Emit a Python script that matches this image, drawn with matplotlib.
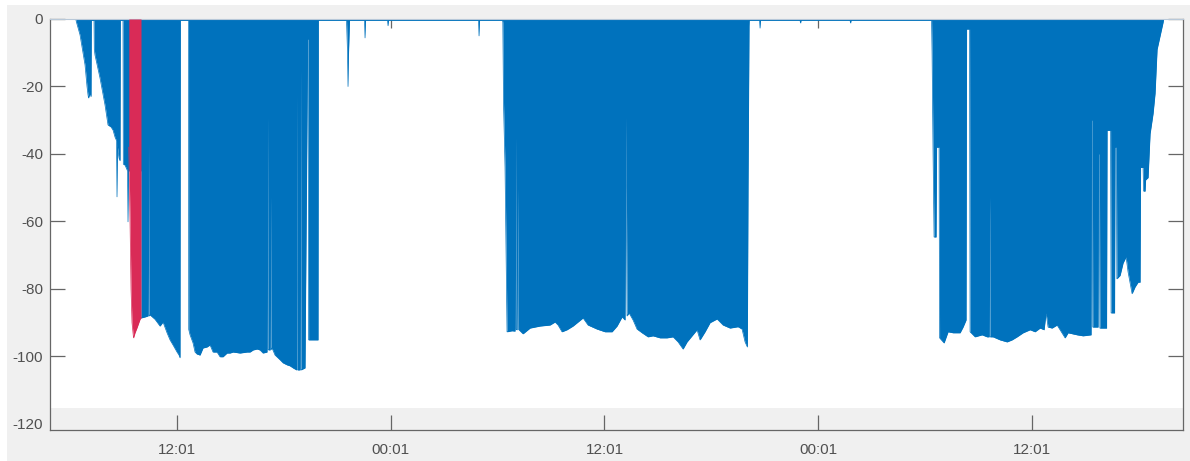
import numpy as np
import matplotlib
matplotlib.use("Agg")
import matplotlib.pyplot as plt
from matplotlib.patches import Rectangle

# time in hours since midnight of day 1, level in dBm (lower envelope of the trace)
burst1_t = [6.346, 6.374, 6.570, 6.851, 6.963, 7.019, 7.047, 7.132, 7.188, 7.205,
            7.356, 7.373, 7.412, 7.693, 7.974, 8.142, 8.311, 8.423, 8.535, 8.619,
            8.647, 8.675, 8.760, 8.816, 8.833, 8.984, 9.001, 9.097, 9.237, 9.265,
            9.293, 9.434, 9.984, 9.995, 10.220, 10.388, 10.416, 10.444, 10.501, 10.781,
            11.062, 11.230, 11.455, 11.624, 11.792, 12.017, 12.129, 12.185, 12.202, 12.662,
            12.674, 12.747, 12.915, 13.027, 13.140, 13.308, 13.476, 13.701, 13.870, 14.038,
            14.263, 14.431, 14.599, 14.824, 14.993, 15.161, 15.554, 15.947, 16.116, 16.284,
            16.509, 16.677, 16.845, 17.070, 17.098, 17.126, 17.239, 17.267, 17.295, 17.351,
            17.520, 17.800, 17.968, 18.193, 18.362, 18.530, 18.727, 18.755, 18.783, 18.923,
            18.951, 18.979, 19.204, 19.288, 19.344, 19.372, 19.389, 19.406, 19.653, 19.934,
            19.951]
burst1_v = [-0.4, -1, -4.7, -13.6, -20, -22.5, -23.4, -22, -23, -0.4,
            -0.4, -9, -10.7, -17.5, -25.5, -31.4, -32, -32.9, -35, -36,
            -52.7, -38, -41.2, -42, -0.4, -0.4, -43, -43.3, -45, -60.1,
            -45, -45, -45, -88.6, -88.3, -88, -37, -88, -87.7, -89,
            -91, -89.8, -93, -95.1, -96.6, -98.7, -99.6, -100.4, -0.4, -0.4,
            -92, -93.6, -96, -98.7, -99.3, -99.6, -97.5, -97.2, -96.6, -98.7,
            -98.7, -100.1, -100.1, -99, -99, -98.7, -99, -98.7, -98.7, -98.1,
            -97.8, -98.1, -99, -98.7, -29, -98, -98.1, -52.7, -98, -97.5,
            -99.6, -101, -101.9, -102.5, -102.8, -103.4, -104, -22, -104, -104,
            -15, -104, -103.4, -48, -6, -6, -48, -95.1, -95.1, -95.1,
            -0.4]

idle1_t = [21.534, 21.590, 21.618, 21.646, 21.702, 22.545, 22.573, 22.601,
           23.836, 23.864, 23.892, 28.946, 28.974, 29.002, 30.293]
idle1_v = [-0.4, -10, -20, -10, -0.4, -0.4, -5.6, -0.4,
           -0.4, -2, -0.4, -0.4, -5, -0.4, -0.4]

burst2_t = [30.310, 30.349, 30.434, 30.518, 30.546, 30.827, 30.995, 31.023, 31.051, 31.108,
            31.164, 31.192, 31.445, 31.838, 32.399, 32.961, 33.241, 33.410, 33.634, 33.915,
            34.252, 34.533, 34.813, 35.094, 35.600, 36.049, 36.442, 36.723, 37.003, 37.172,
            37.228, 37.284, 37.396, 37.621, 37.845, 38.126, 38.463, 38.744, 39.137, 39.530,
            39.867, 40.148, 40.429, 40.653, 40.934, 41.215, 41.383, 41.664, 41.945, 42.338,
            42.675, 43.068, 43.517, 43.742, 43.910, 44.039, 44.078, 44.134, 44.145]
burst2_v = [-1, -25, -44, -80, -92.7, -92.4, -92.5, -35, -92, -92.1,
            -50, -92, -93.3, -91.6, -91, -90.7, -89.8, -90.7, -92.7, -92.1,
            -91, -89.8, -88.6, -90.7, -91.9, -92.7, -92.7, -91, -88.3, -89.2,
            -29, -88, -87.1, -89.2, -91.9, -93, -94.2, -93.9, -94.5, -94.5,
            -94.2, -95.7, -97.8, -95.7, -93.9, -92.1, -95.1, -92.7, -90, -88.9,
            -90.7, -91.6, -91.2, -91.9, -95.7, -97.2, -50, -2, -0.4]

idle2_t = [44.724, 44.752, 44.780, 46.998, 47.026, 47.054, 49.806, 49.834, 49.862, 54.383]
idle2_v = [-0.4, -2.7, -0.4, -0.4, -1.2, -0.4, -0.4, -1.2, -0.4, -0.4]

burst3_t = [54.411, 54.467, 54.523, 54.636, 54.664, 54.804, 54.832, 55.085, 55.309, 55.590,
            55.983, 56.151, 56.320, 56.348, 56.516, 56.545, 56.825, 57.219, 57.499, 57.612,
            57.640, 57.668, 57.836, 58.229, 58.622, 58.903, 59.184, 59.521, 59.914, 60.194,
            60.475, 60.700, 60.812, 60.924, 61.149, 61.430, 61.598, 61.879, 62.047, 62.553,
            62.889, 63.339, 63.367, 63.406, 63.434, 63.732, 63.760, 63.805, 63.833, 64.209,
            64.237, 64.434, 64.462, 64.658, 64.686, 64.759, 64.787, 64.967, 65.136, 65.304,
            65.416, 65.641, 65.809, 65.978, 66.090, 66.118, 66.258, 66.287, 66.371, 66.399,
            66.539, 66.652, 66.820, 66.932, 67.045, 67.213, 67.381, 67.409]
burst3_v = [-10, -40, -64.6, -64.6, -38, -38, -94.5, -96, -92.7, -93,
            -93, -91.3, -89.2, -3, -3, -92.7, -94.2, -93.6, -94.2, -94.2,
            -52.7, -94.2, -94.2, -95.1, -95.7, -95.1, -94.2, -93, -92.1, -92.7,
            -91.6, -92.1, -87.1, -91.3, -91.6, -90.7, -92.1, -94.5, -93, -93.6,
            -93.9, -93.6, -30, -30, -91.3, -91.3, -40, -40, -91.6, -91.6,
            -33, -33, -87.1, -87.1, -38, -38, -77, -76, -72.3, -70.5,
            -75, -81.4, -79.4, -78, -78, -44, -44, -51, -51, -47.7,
            -47, -34, -28, -22, -9, -5, -1, 0]

# highlighted interval
red_t = [9.310, 9.378, 9.434, 9.490, 9.574, 9.658, 9.770, 9.939, 9.995]
red_v = [-38, -60, -80, -90, -94.5, -93, -91.5, -89, -88.6]

xtick_pos = [12.017, 24.017, 36.017, 48.017, 60.017]
xtick_lab = ["12:01", "00:01", "12:01", "00:01", "12:01"]
ytick_pos = [0, -20, -40, -60, -80, -100, -120]

BLUE = "#0072BD"
RED = "#D92B57"
GREY = "#f0f0f0"

fig = plt.figure(figsize=(11.9, 4.61), dpi=100, facecolor="white")
fig.patches.append(Rectangle((7 / 1190, 0), 1, (461 - 5) / 461, transform=fig.transFigure,
                             facecolor=GREY, edgecolor="none", zorder=-10))
ax = fig.add_axes([50 / 1190, 31 / 461, 1133 / 1190, 411 / 461])
ax.set_facecolor("white")

t = np.concatenate([burst1_t, idle1_t, burst2_t, idle2_t, burst3_t])
v = np.concatenate([burst1_v, idle1_v, burst2_v, idle2_v, burst3_v])
ax.fill_between(t, 0, v, color=BLUE, lw=0, zorder=2)
ax.plot(t, v, color=BLUE, lw=0.5, zorder=2)
ax.fill_between(red_t, 0, red_v, color=RED, lw=0, zorder=3)
ax.plot(red_t, red_v, color=RED, lw=0.5, zorder=3)

ax.set_xlim(4.885, 68.50)
ax.set_ylim(-121.8, 0)
ax.axhspan(-121.8, -115.3, color=GREY, lw=0, zorder=1.5)

ax.set_xticks(xtick_pos)
ax.set_xticklabels(xtick_lab)
ax.set_yticks(ytick_pos)
ax.set_yticklabels([str(y) for y in ytick_pos])

for lab in ax.get_xticklabels() + ax.get_yticklabels():
    lab.set_fontfamily("Liberation Sans")
    lab.set_fontsize(11)

ax.tick_params(axis="y", direction="in", left=True, right=True, length=11, width=0.9,
               color="#666666", labelcolor="#505050", pad=5)
ax.tick_params(axis="x", direction="in", bottom=True, top=True, length=11, width=0.9,
               color="#666666", labelcolor="#505050", pad=9)
for tk in ax.xaxis.get_major_ticks():
    tk.tick2line.set_markersize(6.5)
ax.yaxis.get_major_ticks()[-1].tick1line.set_visible(False)
ax.yaxis.get_major_ticks()[-1].tick2line.set_visible(False)

for side in ["left", "right", "bottom"]:
    ax.spines[side].set_color("#666666")
    ax.spines[side].set_linewidth(0.9)
ax.spines["top"].set_color("#b8c8d8")
ax.spines["top"].set_linewidth(0.8)

fig.savefig("out.png", dpi=100, facecolor=fig.get_facecolor())
